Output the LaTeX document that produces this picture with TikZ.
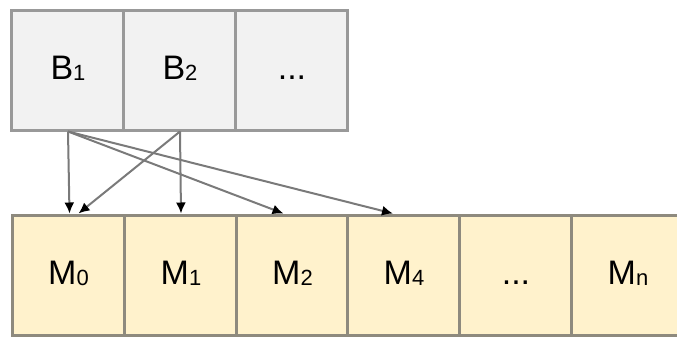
\documentclass[tikz,border=0pt]{standalone}
\usepackage{fontspec}
\setmainfont{Liberation Sans}
\usetikzlibrary{arrows.meta}
\definecolor{topfill}{HTML}{F2F2F2}
\definecolor{topdraw}{HTML}{999999}
\definecolor{botfill}{HTML}{FFF2CC}
\definecolor{botdraw}{HTML}{8E8A7E}
\definecolor{linkc}{HTML}{7A7A7A}
\tikzset{
  cell/.style={line width=1.5pt, minimum width=56pt, minimum height=60pt, inner sep=0pt, text height=12pt, text depth=3pt, font=\fontsize{17}{17}\selectfont},
  topbox/.style={cell, draw=topdraw, fill=topfill},
  botbox/.style={cell, draw=botdraw, fill=botfill},
  link/.style={draw=linkc, line width=1pt, -{Latex[length=5.5pt,width=5pt,color=black]}}
}
\newcommand{\lbl}[2]{#1\raisebox{-0.05em}{\fontsize{11}{11}\selectfont #2}}
\begin{document}
\begin{tikzpicture}[x=0.5pt,y=-0.5pt]
\useasboundingbox (0,0) rectangle (677,338);
\clip (0,0) rectangle (677,338);
\node[topbox] (B1) at (68,70) {\lbl{B}{1}};
\node[topbox] (B2) at (180,70) {\lbl{B}{2}};
\node[topbox] (B3) at (292,70) {...};
\node[botbox] (M0) at (68.5,275) {\lbl{M}{0}};
\node[botbox] (M1) at (181,275) {\lbl{M}{1}};
\node[botbox] (M2) at (292.5,275) {\lbl{M}{2}};
\node[botbox] (M4) at (404,275) {\lbl{M}{4}};
\node[botbox] (M5) at (516,275) {...};
\node[botbox] (Mn) at (628,275) {\lbl{M}{n}};
\draw[link] (B1.south) -- ([xshift=0.5pt]M0.north);
\draw[link] (B2.south) -- ([xshift=5pt]M0.north);
\draw[link] (B2.south) -- (M1.north);
\draw[link] (B1.south) -- ([xshift=-4.5pt]M2.north);
\draw[link] (B1.south) -- ([xshift=-5.5pt]M4.north);
\end{tikzpicture}
\end{document}
